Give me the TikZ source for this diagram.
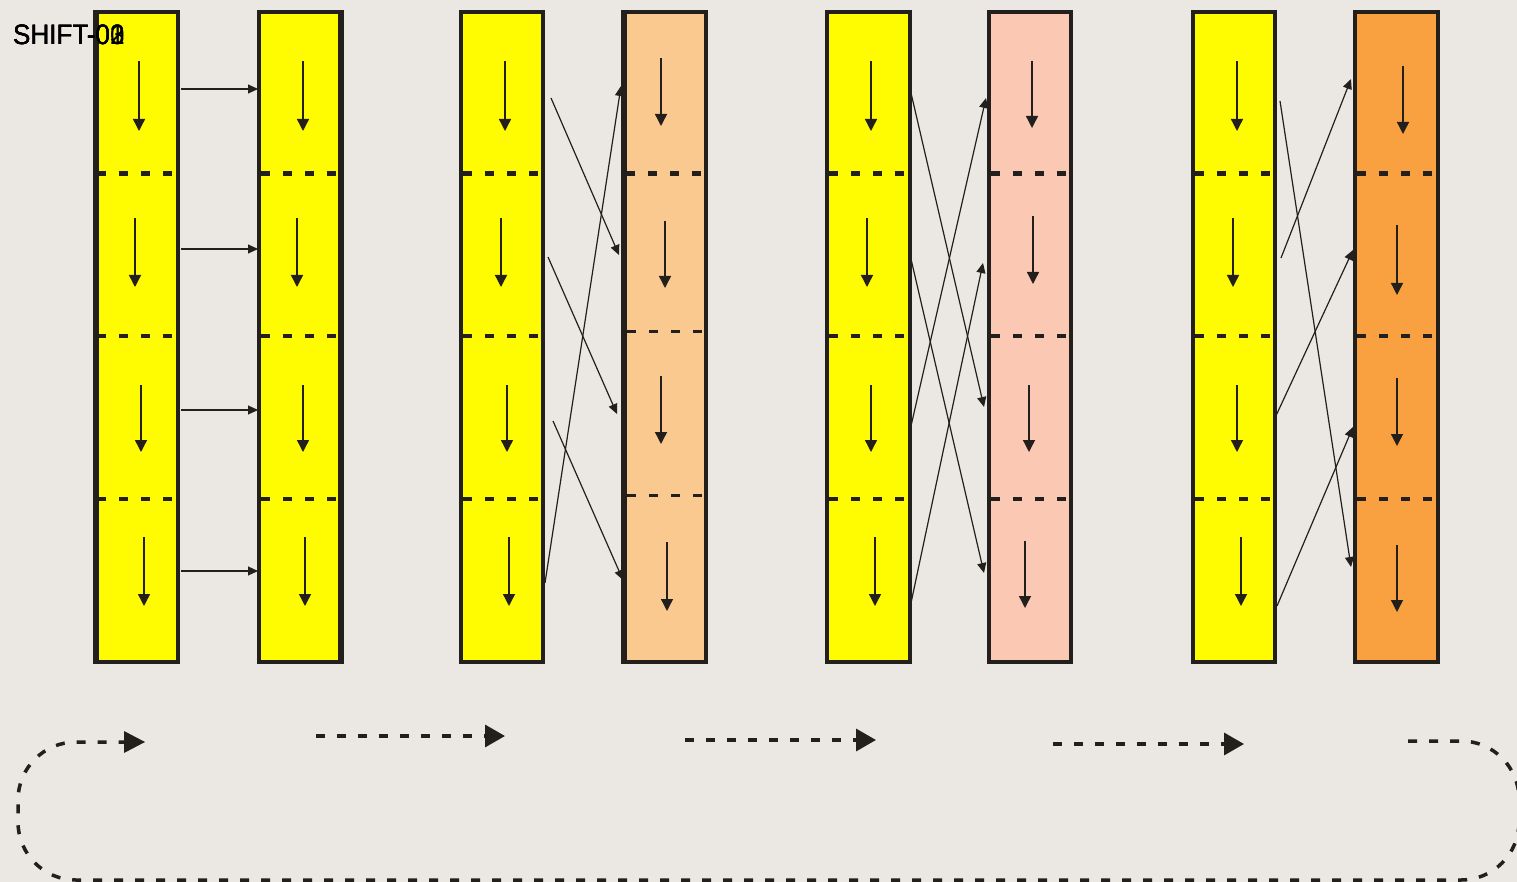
\documentclass[tikz,border=0pt]{standalone}
\usepackage{fontspec}
\setmainfont{Liberation Sans}
\usetikzlibrary{arrows.meta}
\definecolor{bg}{HTML}{EBE7E3}
\definecolor{ink}{HTML}{231F1C}
\definecolor{yel}{HTML}{FFFB00}
\definecolor{peach}{HTML}{FAC98F}
\definecolor{pink}{HTML}{FBC8B4}
\definecolor{orng}{HTML}{F9A141}
\tikzset{
  col/.style={draw=ink, line width=4pt, outer sep=0pt, inner sep=0pt},
  sepA/.style={draw=ink, line width=5pt, dash pattern=on 9pt off 13pt},
  sepB/.style={draw=ink, line width=3.5pt, dash pattern=on 9pt off 13pt},
  down/.style={draw=ink, line width=1.4pt, -{Triangle[length=12pt,width=12pt]}},
  link/.style={draw=ink, line width=1.2pt, -{Triangle[length=10pt,width=9pt]}},
  flow/.style={draw=ink, line width=3.5pt, dash pattern=on 9pt off 12pt, -{Triangle[length=20pt,width=22pt]}},
  loop/.style={draw=ink, line width=3.5pt, dash pattern=on 9pt off 12pt, rounded corners=58pt},
  lbl/.style={inner sep=0pt, anchor=base west, font=\fontsize{28}{28}\selectfont, xscale=0.93}
}
\begin{document}
\begin{tikzpicture}[x=1pt,y=-1pt]
\fill[bg] (0,0) rectangle (1517,882);
\useasboundingbox (0,0) rectangle (1517,882);

% columns: name, left, right, fill (centre line of the border)
\foreach \n/\l/\r/\c in {c1/95/178/yel, c2/259/342/yel, c3/461/543/yel, c4/623/706/peach,
                          c5/827/910/yel, c6/989/1071/pink, c7/1193/1275/yel, c8/1355/1438/orng}{
  \node[col, fill=\c, minimum width={\r-\l}, minimum height=650pt, anchor=north west] (\n) at (\l,12) {};
}
% thicker left/right edges
\foreach \x in {96,624}{\draw[ink, line width=6pt] (\x,10) -- (\x,664);}
\draw[ink, line width=6pt] (341,10) -- (341,664);

% separators
\foreach \l/\r in {97/176, 261/340, 463/541, 626/704, 829/908, 991/1069, 1195/1273, 1357/1436}{
  \draw[sepA] (\l,174) -- (\r,174);
  \draw[sepB] (\l,336) -- (\r,336);
  \draw[sepB] (\l,499) -- (\r,499);
}
% column 4 has its lower separators a little higher
\fill[peach] (627,329) rectangle (704,340);
\fill[peach] (627,492) rectangle (704,503);
\draw[sepB, line width=3pt] (627,332) -- (704,332);
\draw[sepB, line width=3pt] (627,495) -- (704,495);

% internal arrows
\foreach \x/\a/\b in {
  139/61/131, 135/218/287, 141/385/452, 144/537/606,
  303/61/131, 297/218/287, 303/385/452, 305/537/606,
  505/61/131, 501/218/287, 507/385/452, 509/537/606,
  661/58/126, 665/221/288, 661/376/444, 667/542/611,
  871/61/131, 867/218/287, 871/385/452, 875/537/606,
  1032/61/128, 1033/216/284, 1029/385/452, 1025/541/608,
  1237/61/131, 1233/218/287, 1237/385/452, 1241/537/606,
  1403/66/134, 1397/225/295, 1397/378/446, 1397/545/612}{
  \draw[down] (\x,\a) -- (\x,\b);
}

% connectors
\foreach \i/\y in {1/89, 2/249, 3/410, 4/571}{
  \coordinate (a\i) at (181,\y);
  \coordinate (b\i) at (258,\y);
  \draw[link] (a\i) -- (b\i);
}
\coordinate (p1) at (551,98);  \coordinate (q1) at (619,255);
\coordinate (p2) at (548,257); \coordinate (q2) at (617,414);
\coordinate (p3) at (553,421); \coordinate (q3) at (623,580);
\coordinate (p4) at (545,583); \coordinate (q4) at (621,86);
\coordinate (r1) at (911,93);  \coordinate (s1) at (984,407);
\coordinate (r2) at (911,259); \coordinate (s2) at (984,573);
\coordinate (r3) at (911,426); \coordinate (s3) at (986,98);
\coordinate (r4) at (911,603); \coordinate (s4) at (983,263);
\coordinate (t1) at (1280,101); \coordinate (u1) at (1351,567);
\coordinate (t2) at (1281,258); \coordinate (u2) at (1351,79);
\coordinate (t3) at (1274,420); \coordinate (u3) at (1353,250);
\coordinate (t4) at (1277,606); \coordinate (u4) at (1353,427);
\foreach \i in {1,2,3,4}{
  \draw[link] (p\i) -- (q\i);
  \draw[link] (r\i) -- (s\i);
  \draw[link] (t\i) -- (u\i);
}

% bottom flow arrows
\coordinate (f1s) at (316,736); \coordinate (f1e) at (505,736);
\coordinate (f2s) at (685,740); \coordinate (f2e) at (876,740);
\coordinate (f3s) at (1053,744); \coordinate (f3e) at (1244,744);
\draw[flow] (f1s) -- (f1e);
\draw[flow] (f2s) -- (f2e);
\draw[flow] (f3s) -- (f3e);

% return loop
\coordinate (ls) at (1408,741);
\coordinate (lm) at (124,742);
\draw[loop] (ls) -- (1519,741) -- (1519,880) -- (18,880) -- (18,742) -- (lm);
\fill[ink] (124,731) -- (145,742) -- (124,753) -- cycle;

% label (overprinted frames)
\node[lbl] (t0) at (13,45) {SHIFT-00};
\node[lbl] (t1l) at (13,45) {SHIFT-01};
\node[lbl] (t2l) at (13,45) {SHIFT-02};
\node[lbl] (t3l) at (13,45) {SHIFT-03};
\end{tikzpicture}
\end{document}
